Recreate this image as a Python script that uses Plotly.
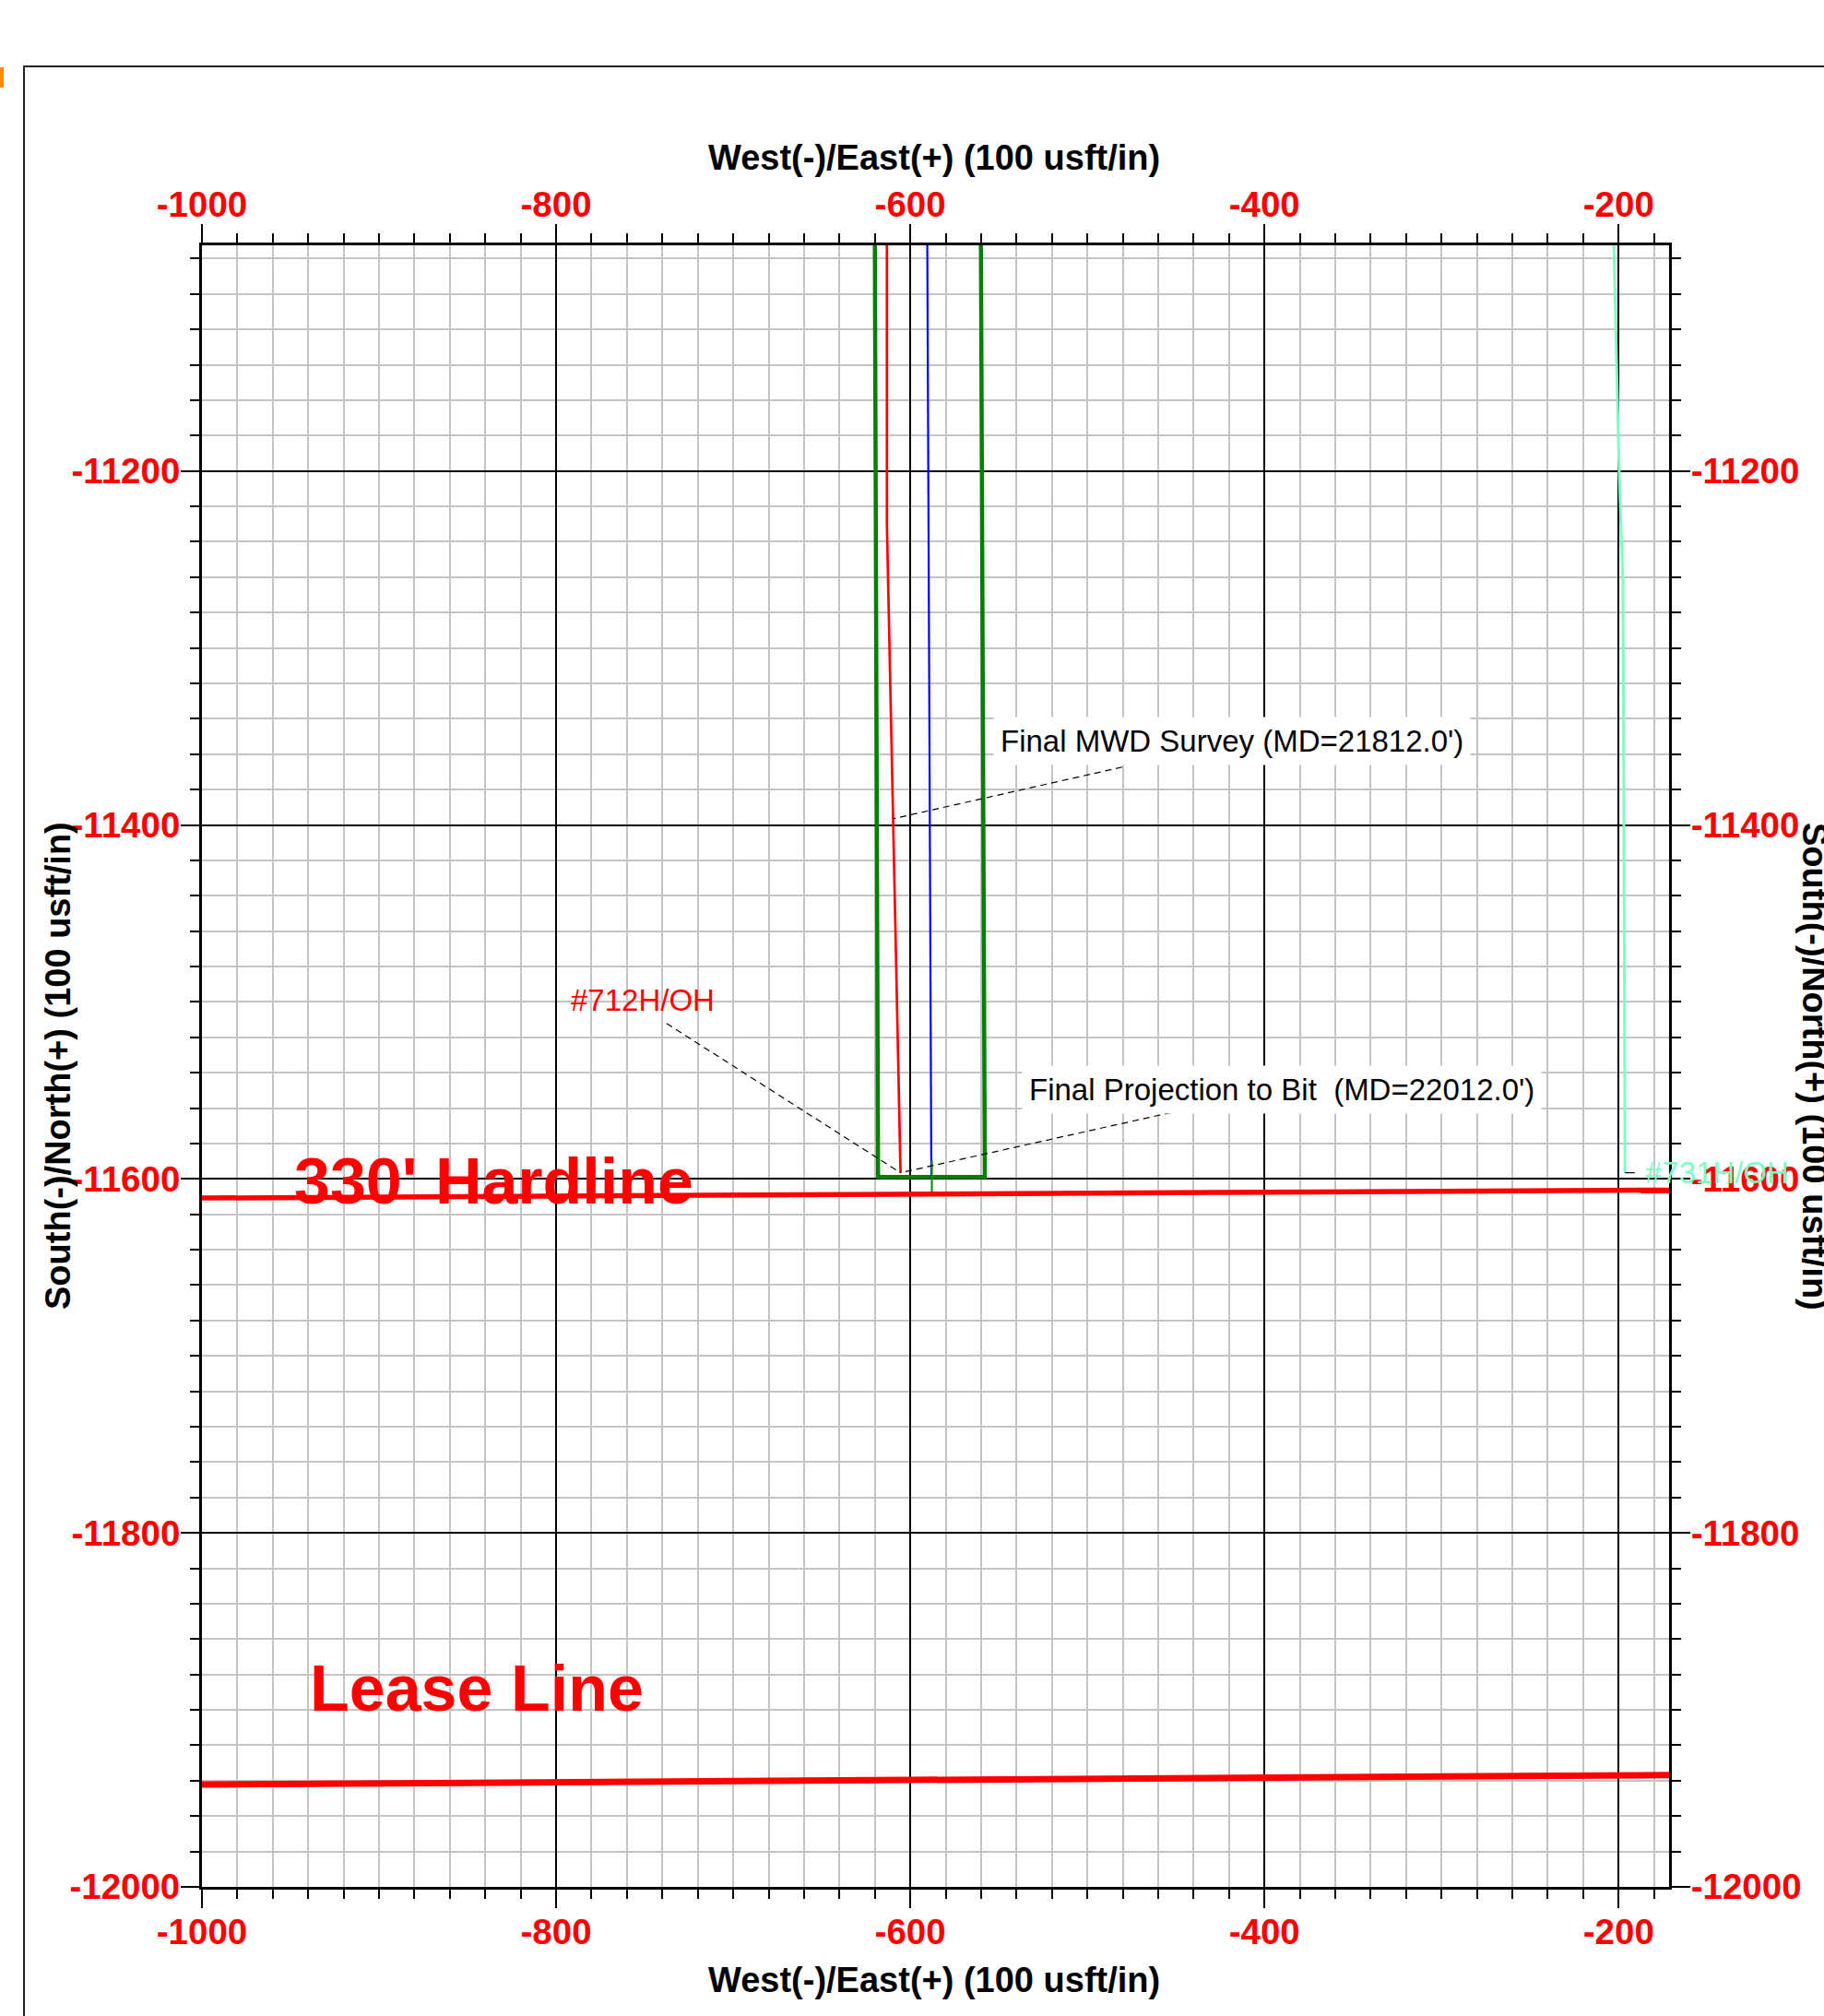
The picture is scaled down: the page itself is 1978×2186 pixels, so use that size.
import numpy as np
import plotly.graph_objects as go

# ---------------- data ----------------
x_range = [-1000, -171.5]
y_range = [-12000, -11072.5]
x_major = [-1000, -800, -600, -400, -200]
y_major = [-12000, -11800, -11600, -11400, -11200]
x_labels = ["-1000", "-800", "-600", "-400", "-200"]
y_labels = ["-12000", "-11800", "-11600", "-11400", "-11200"]

# wells (West/East, South/North)
w712_x = [-613.2, -613.2, -605.5]
w712_y = [-11000, -11230, -11596.5]
wblue_x = [-590.7, -588.1]
wblue_y = [-11000, -11599.6]
w731_x = [-204.4, -202.7, -199.7, -197.6, -197.3, -196.4]
w731_y = [-11000, -11072.5, -11200, -11262, -11312, -11596.5]

# drilling window (green)
box_x = [-620.25, -618.2, -557.9, -560.4]
box_y = [-11000, -11598.9, -11598.9, -11000]
tick_x = [-587.8, -587.8]
tick_y = [-11589.4, -11607.5]

# lines
hard_x = [-1000, -171.5]
hard_y = [-11610.8, -11606.3]
lease_x = [-1000, -171.5]
lease_y = [-11942.2, -11936.8]

# labels
mwd_text = "Final MWD Survey (MD=21812.0')"
mwd_pos = (-418.4, -11352.7)
mwd_leader_start = (-480.3, -11367.3)
mwd_y = -11396.5
proj_text = "Final Projection to Bit  (MD=22012.0')"
proj_pos = (-390.0, -11549.3)
proj_leader_start = (-452.7, -11562.5)
lab712_text = "#712H/OH"
lab712_pos = (-792.8, -11498.8)
lab712_leader_start = (-737.6, -11512.2)
lab731_text = "#731H/OH"
lab731_pos = (-186.3, -11596.5)
lab731_leader_end_x = -190.9
hard_text = "330' Hardline"
hard_pos = (-949.0, -11601.3)
lease_text = "Lease Line"
lease_pos = (-940.0, -11888.0)
x_title = "West(-)/East(+) (100 usft/in)"
y_title = "South(-)/North(+) (100 usft/in)"

# ---------------- figure ----------------
W, H = 1978, 2186
L, R, T, B = 219, 168, 266, 140
PW, PH = W - L - R, H - T - B
def px(p):
    return (p - L) / PW
def py(p):
    return (H - B - p) / PH

FONT = "Liberation Sans, Arial, sans-serif"
fig = go.Figure()

def line(x, y, color, width, dash=None, xa='x', ya='y'):
    fig.add_trace(go.Scatter(x=x, y=y, mode='lines', xaxis=xa, yaxis=ya,
                             line=dict(color=color, width=width, dash=dash),
                             hoverinfo='skip', showlegend=False))

# invisible trace for secondary axes
line(x_range, y_range, 'rgba(0,0,0,0)', 0, xa='x2', ya='y2')

line(box_x, box_y, '#008000', 4.5)
line(wblue_x, wblue_y, '#0000ff', 2.2)
line(tick_x, tick_y, '#1a8c1a', 2.2)
line(w712_x, w712_y, '#ff0000', 2.7)
line(w731_x, w731_y, '#7dffc4', 3)
line(hard_x, hard_y, '#ff0000', 5.5)
line(lease_x, lease_y, '#ff0000', 7)

# leaders (dashed)
x712_end = float(np.interp(w712_y[-1], w712_y[::-1], w712_x[::-1]))
mwd_end_x = float(np.interp(mwd_y, w712_y[::-1], w712_x[::-1]))
dash = '7px,5px'
line([mwd_leader_start[0], mwd_end_x], [mwd_leader_start[1], mwd_y], 'black', 1.2, dash)
line([proj_leader_start[0], x712_end], [proj_leader_start[1], w712_y[-1]], 'black', 1.2, dash)
line([lab712_leader_start[0], x712_end], [lab712_leader_start[1], w712_y[-1]], 'black', 1.2, dash)
line([w731_x[-1], lab731_leader_end_x], [w731_y[-1], w731_y[-1]], 'black', 1.2)

tickfont = dict(family=FONT, size=38.5, color='#ff0000', weight='bold')
common = dict(ticks='outside', ticklen=20, tickwidth=2, tickcolor='black',
              showline=True, linecolor='black', linewidth=3, zeroline=False,
              tickfont=tickfont, ticklabelstandoff=-7)
minor_x = dict(dtick=20, tick0=-1000, ticks='outside', ticklen=10, tickwidth=1.5, tickcolor='black')
minor_y = dict(dtick=20, tick0=-12000, ticks='outside', ticklen=10, tickwidth=1.5, tickcolor='black')
fig.update_layout(
    width=W, height=H, margin=dict(l=L, r=R, t=T, b=B, pad=0),
    paper_bgcolor='white', plot_bgcolor='white',
    xaxis=dict(range=x_range, showgrid=True, gridcolor='black', gridwidth=2.3,
               tickvals=x_major, ticktext=x_labels,
               minor=dict(showgrid=True, gridcolor='#c4c4c4', gridwidth=1.5, **minor_x),
               **common),
    xaxis2=dict(range=x_range, overlaying='x', side='top', matches='x', showgrid=False,
                tickvals=x_major, ticktext=x_labels,
                minor=dict(showgrid=False, **minor_x), **common),
    yaxis=dict(range=y_range, showgrid=True, gridcolor='black', gridwidth=2.3,
               tickvals=y_major, ticktext=y_labels,
               minor=dict(showgrid=True, gridcolor='#c4c4c4', gridwidth=1.5, **minor_y),
               **common),
    yaxis2=dict(range=y_range, overlaying='y', side='right', matches='y', showgrid=False,
                tickvals=y_major, ticktext=y_labels,
                minor=dict(showgrid=False, **minor_y), **common),
)

lab_font = dict(family=FONT, size=33, color='black')
ann = []
ann.append(dict(x=mwd_pos[0], y=mwd_pos[1], text=mwd_text, showarrow=False,
                font=lab_font, bgcolor='white', borderpad=7, xanchor='center', yanchor='middle'))
ann.append(dict(x=proj_pos[0], y=proj_pos[1], text=proj_text, showarrow=False,
                font=lab_font, bgcolor='white', borderpad=7, xanchor='center', yanchor='middle'))
ann.append(dict(x=lab712_pos[0], y=lab712_pos[1], text=lab712_text, showarrow=False,
                font=dict(family=FONT, size=33, color='#ff0000'), xanchor='left', yanchor='middle'))
ann.append(dict(x=lab731_pos[0], y=lab731_pos[1], text=lab731_text, showarrow=False,
                font=dict(family=FONT, size=33, color='#7dffc4'), xanchor='left', yanchor='middle'))
ann.append(dict(x=hard_pos[0], y=hard_pos[1], text=hard_text, showarrow=False,
                font=dict(family=FONT, size=70, color='#ff0000', weight='bold'),
                xanchor='left', yanchor='middle'))
ann.append(dict(x=lease_pos[0], y=lease_pos[1], text=lease_text, showarrow=False,
                font=dict(family=FONT, size=70, color='#ff0000', weight='bold'),
                xanchor='left', yanchor='middle'))
title_font = dict(family=FONT, size=38, color='black', weight='bold')
ann.append(dict(xref='paper', yref='paper', x=px(1013), y=py(171), text=x_title,
                showarrow=False, font=title_font, xanchor='center', yanchor='middle'))
ann.append(dict(xref='paper', yref='paper', x=px(1013), y=py(2147), text=x_title,
                showarrow=False, font=title_font, xanchor='center', yanchor='middle'))
ann.append(dict(xref='paper', yref='paper', x=px(63), y=py(1156), text=y_title, textangle=-90,
                showarrow=False, font=title_font, xanchor='center', yanchor='middle'))
ann.append(dict(xref='paper', yref='paper', x=px(1968), y=py(1156), text=y_title, textangle=90,
                showarrow=False, font=title_font, xanchor='center', yanchor='middle'))
fig.update_layout(annotations=ann)

fig.update_layout(shapes=[
    dict(type='rect', xref='paper', yref='paper', x0=px(26), x1=px(2100), y0=py(72), y1=py(2300),
         line=dict(color='#222222', width=2), fillcolor='rgba(0,0,0,0)', layer='above'),
    dict(type='rect', xref='paper', yref='paper', x0=px(0), x1=px(4), y0=py(73), y1=py(95),
         line=dict(width=0), fillcolor='#ff8c00', layer='above'),
])

fig.write_html("out.html", config={'displayModeBar': False},
               post_script="document.body.style.margin='0px';document.body.style.overflow='hidden';")
